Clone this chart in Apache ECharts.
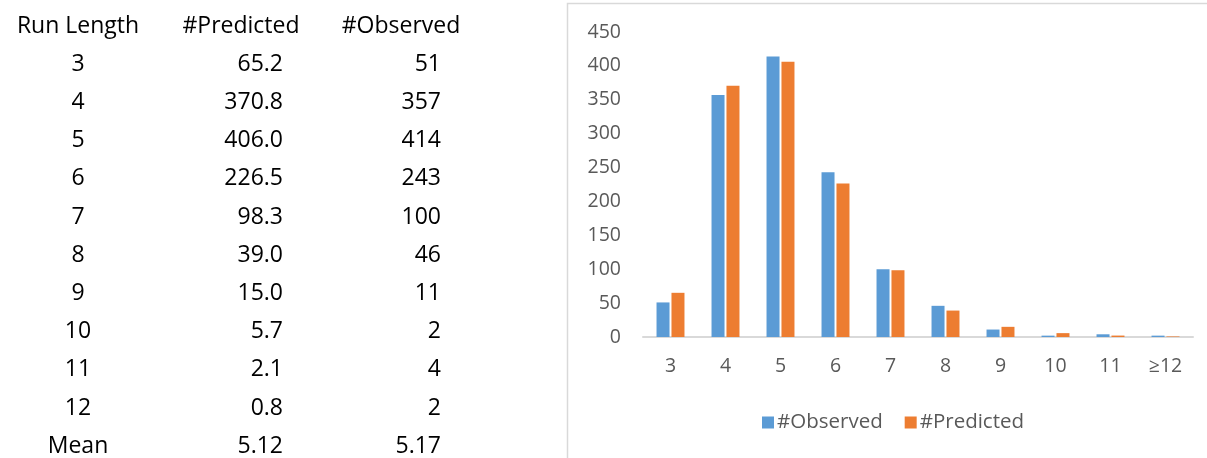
<!DOCTYPE html>
<html>
<head>
<meta charset="utf-8">
<script src="https://cdn.jsdelivr.net/npm/echarts@6/dist/echarts.min.js"></script>
<style>
html,body{margin:0;padding:0;background:#fff;}
#chart{width:1207px;height:458px;}
</style>
</head>
<body>
<div id="chart"></div>
<script>
// ---- data ----
var tableRunLengths = ['3','4','5','6','7','8','9','10','11','12'];
var categories = ['3','4','5','6','7','8','9','10','11','\u226512'];
var predicted = [65.2, 370.8, 406.0, 226.5, 98.3, 39.0, 15.0, 5.7, 2.1, 0.8];
var observed = [51, 357, 414, 243, 100, 46, 11, 2, 4, 2];
var meanLabel = 'Mean';
var meanPredicted = '5.12';
var meanObserved = '5.17';
var tableHeaders = ['Run Length', '#Predicted', '#Observed'];

// ---- table as graphic text ----
var FONT = '"Open Sans", Lato, sans-serif';
var graphics = [];
function txt(s, x, y, align) {
  graphics.push({
    type: 'text', x: x, y: y,
    style: { text: s, x: 0, y: 0, align: align, verticalAlign: 'middle',
             font: '23px ' + FONT, fill: '#000' }
  });
}
var rowH = 38.2, y0 = 26;
txt(tableHeaders[0], 78, y0, 'center');
txt(tableHeaders[1], 241, y0, 'center');
txt(tableHeaders[2], 401, y0, 'center');
for (var i = 0; i < tableRunLengths.length; i++) {
  var y = y0 + rowH * (i + 1);
  txt(tableRunLengths[i], 78, y, 'center');
  txt(predicted[i].toFixed(1), 283, y, 'right');
  txt(String(observed[i]), 441, y, 'right');
}
var ym = y0 + rowH * (tableRunLengths.length + 1);
txt(meanLabel, 78, ym, 'center');
txt(meanPredicted, 283, ym, 'right');
txt(meanObserved, 441, ym, 'right');

// chart box border
graphics.push({
  type: 'rect', x: 567.5, y: 3.5,
  shape: { width: 700, height: 500 },
  style: { fill: 'none', stroke: '#d9d9d9', lineWidth: 1.5 },
  z: -1
});

var chart = echarts.init(document.getElementById('chart'));
chart.setOption({
  animation: false,
  textStyle: { fontFamily: FONT },
  graphic: graphics,
  grid: { left: 643, right: 14, top: 32, bottom: 121, containLabel: false },
  legend: {
    data: ['#Observed', '#Predicted'],
    left: 757, top: 407,
    itemWidth: 12, itemHeight: 12, itemGap: 22,
    icon: 'rect',
    textStyle: { fontSize: 20.5, color: '#595959', fontFamily: FONT, padding: [0,0,0,-2] }
  },
  xAxis: {
    type: 'category',
    data: categories,
    axisLine: { lineStyle: { color: '#d9d9d9', width: 2 } },
    axisTick: { show: false },
    axisLabel: { fontSize: 19.5, color: '#595959', margin: 19 }
  },
  yAxis: {
    type: 'value',
    min: 0, max: 450, interval: 50,
    axisLine: { show: false },
    axisTick: { show: false },
    splitLine: { show: false },
    axisLabel: { fontSize: 19.5, color: '#595959', margin: 22 }
  },
  series: [
    { name: '#Observed', type: 'bar', data: observed, barWidth: 13, barGap: '15%',
      itemStyle: { color: '#5B9BD5' } },
    { name: '#Predicted', type: 'bar', data: predicted, barWidth: 13,
      itemStyle: { color: '#ED7D31' } }
  ]
});
</script>
</body>
</html>
